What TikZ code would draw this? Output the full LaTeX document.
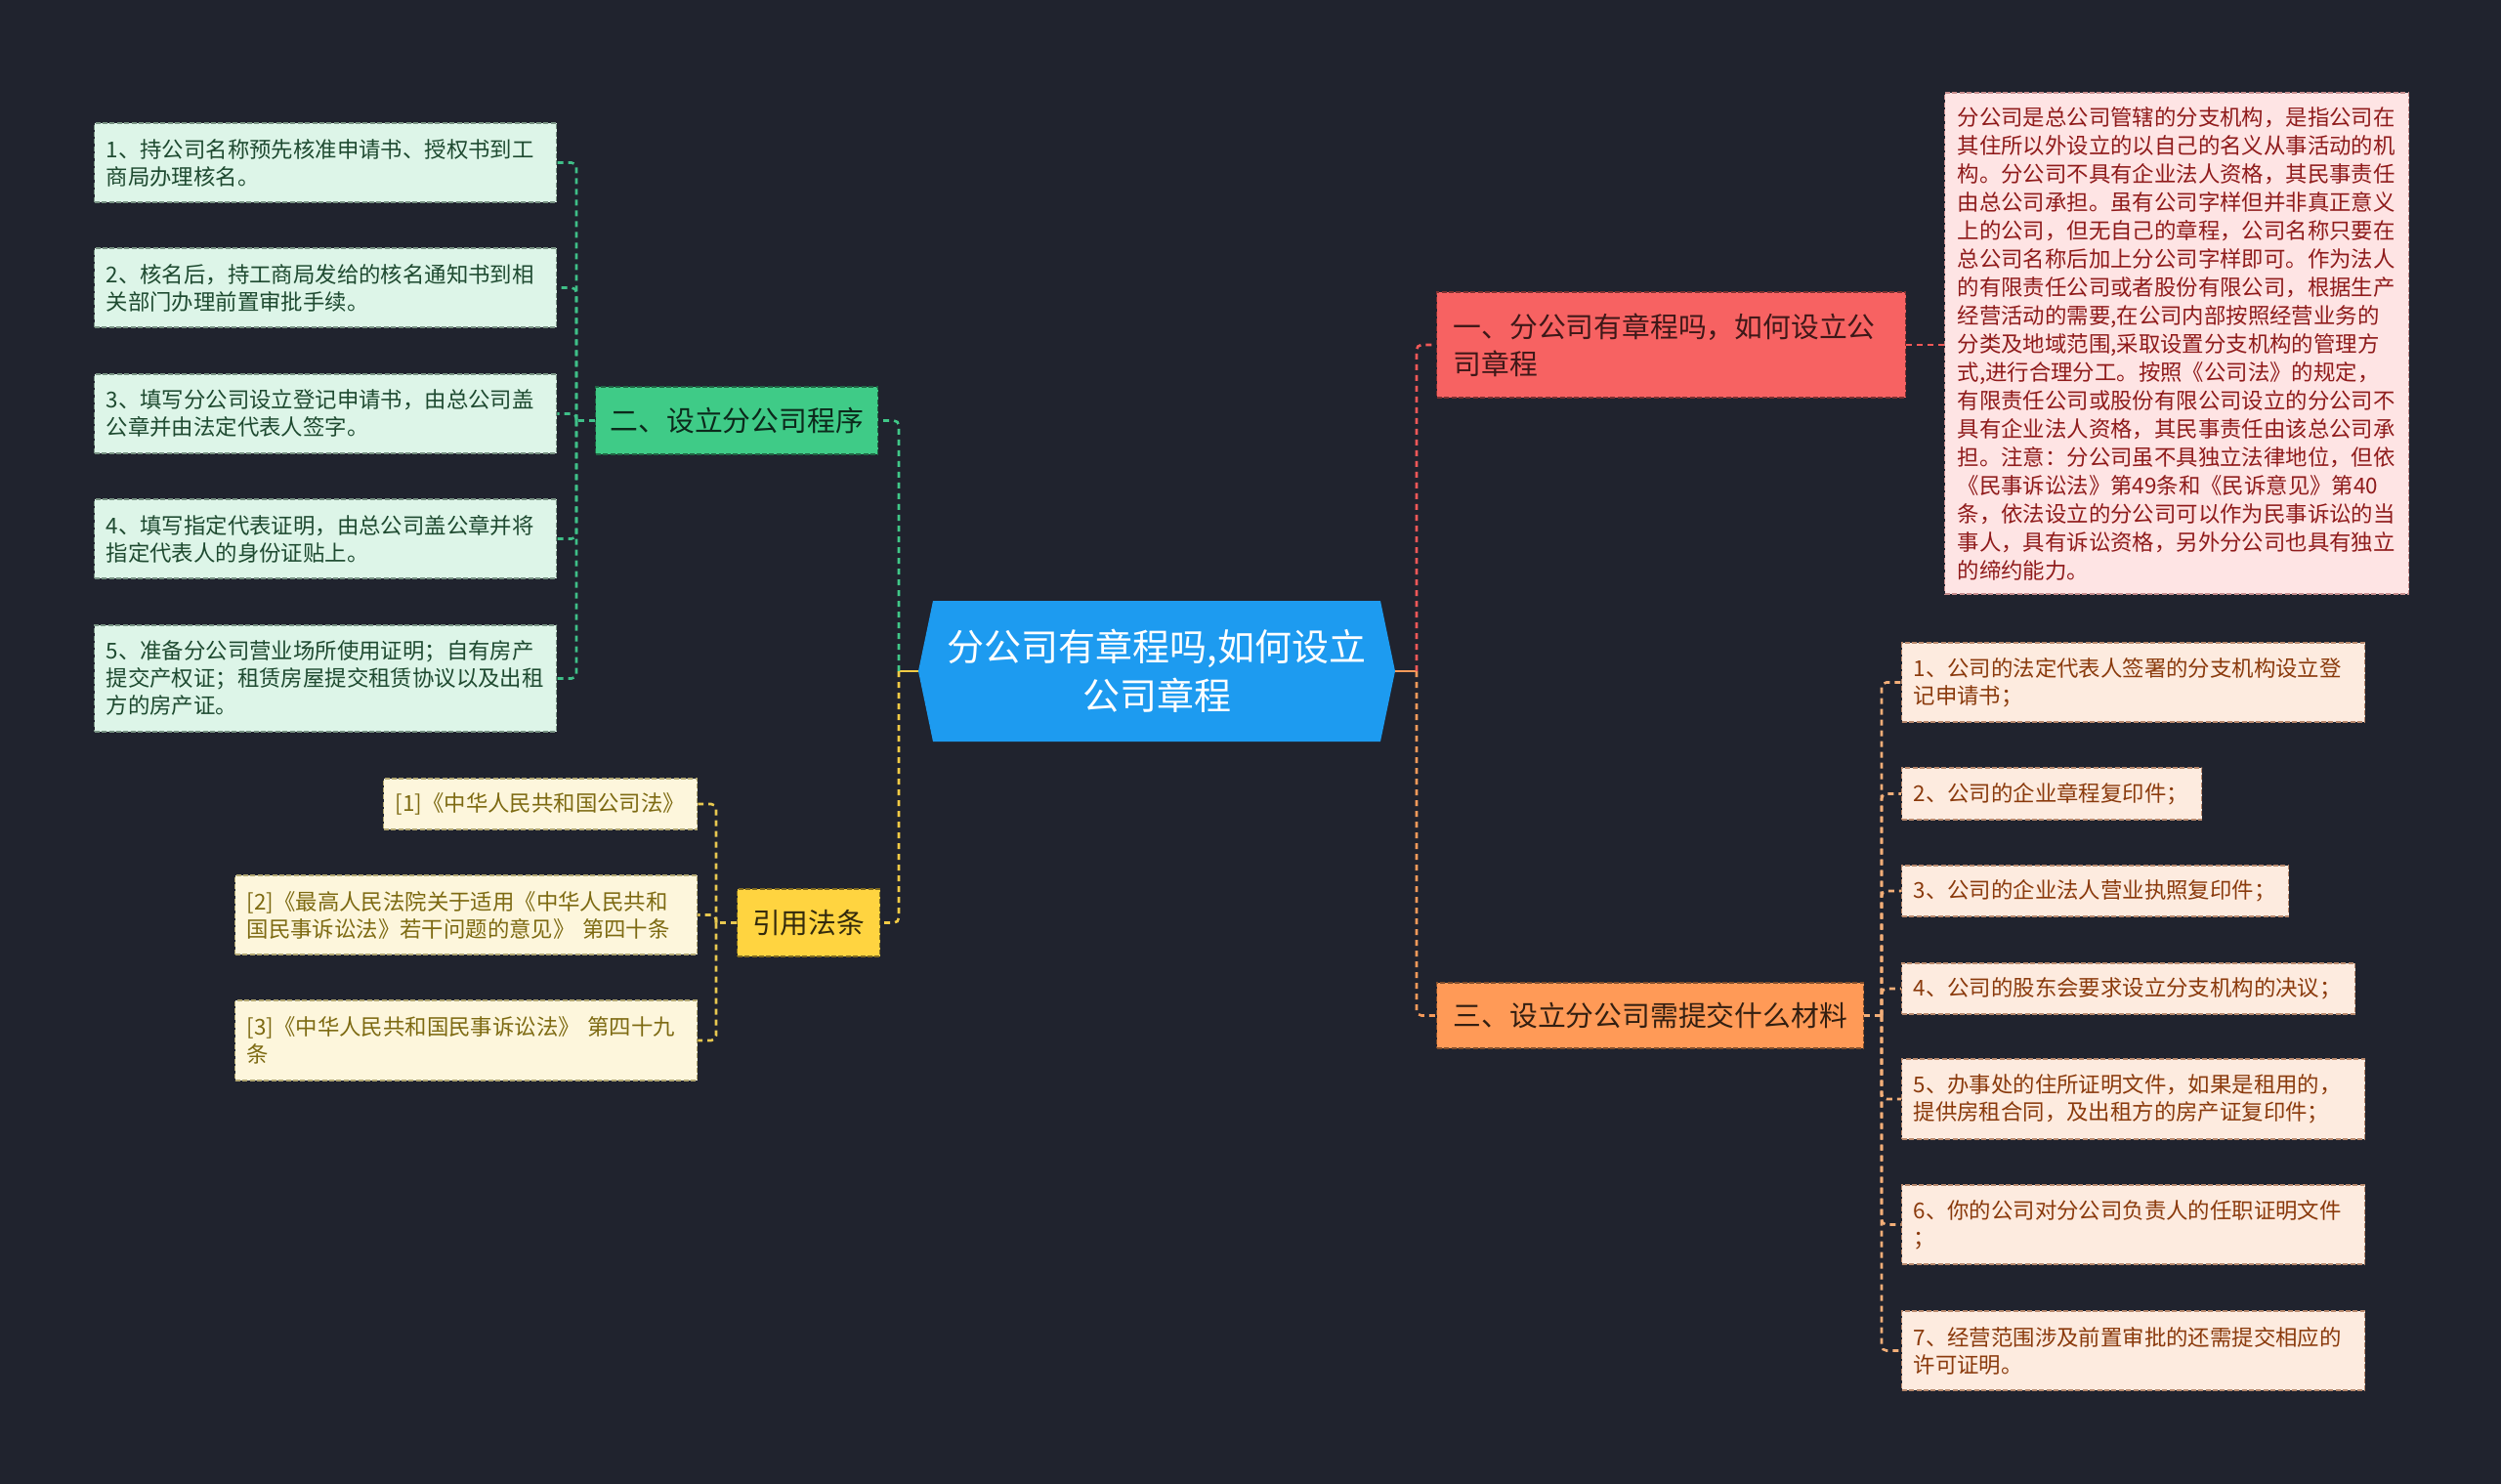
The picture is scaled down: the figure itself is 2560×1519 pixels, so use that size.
\documentclass[tikz,border=0pt]{standalone}
\usepackage{fontspec}
\setmainfont{Noto Sans CJK SC}
\definecolor{bg}{HTML}{20232E}
\definecolor{cblue}{HTML}{1D9BF0}
\definecolor{cred}{HTML}{F76262}
\definecolor{corange}{HTML}{FF9A57}
\definecolor{cgreen}{HTML}{3FCB87}
\definecolor{cyellow}{HTML}{FFD440}
\definecolor{gfill}{HTML}{DDF5E8}
\definecolor{gtext}{HTML}{1E4A30}
\definecolor{yfill}{HTML}{FDF6DC}
\definecolor{ytext}{HTML}{7D6A12}
\definecolor{pfill}{HTML}{FEE4E4}
\definecolor{ptext}{HTML}{8F1B1B}
\definecolor{ofill}{HTML}{FDEBDF}
\definecolor{otext}{HTML}{8A3A0C}
\definecolor{lgreen}{HTML}{40C888}
\definecolor{lyellow}{HTML}{F2CB45}
\definecolor{lred}{HTML}{F05858}
\definecolor{lorange}{HTML}{F59A5A}
\definecolor{lsubor}{HTML}{F2AE78}
\definecolor{lsubgr}{HTML}{3FBF88}
\definecolor{lsubye}{HTML}{E8C850}
\begin{document}
\begin{tikzpicture}[x=0.5pt,y=-0.5pt,
  conn/.style={line width=1.3pt, dash pattern=on 3pt off 2.5pt, rounded corners=2.5pt},
  solidconn/.style={line width=1.3pt},
  boxbase/.style={rectangle, anchor=west, inner xsep=6pt, inner ysep=0pt, align=left, line width=0.7pt, dash pattern=on 2.5pt off 1.2pt},
  gitem/.style={boxbase, fill=gfill, draw=gtext!60, text=gtext, text width=224.5pt, font=\fontsize{11.2}{14}\selectfont},
  yitem/.style={boxbase, fill=yfill, draw=ytext!60, text=ytext, text width=224.5pt, font=\fontsize{11.2}{14}\selectfont},
  oitem/.style={boxbase, fill=ofill, draw=otext!60, text=otext, text width=225pt, font=\fontsize{11.2}{14}\selectfont},
  headnode/.style={rectangle, anchor=west, inner sep=0pt, align=center, line width=0.7pt, dash pattern=on 2.5pt off 1.2pt, font=\fontsize{14.4}{19}\selectfont}
]
\fill[bg] (0,0) rectangle (2560,1519);
\useasboundingbox (0,0) rectangle (2560,1519);

% central node
\fill[cblue] (940,687) -- (955,615) -- (1413,615) -- (1428,687) -- (1413,759) -- (955,759) -- cycle;
\node[text=white, align=center, font=\fontsize{19}{25}\selectfont] (c) at (1184,687) {分公司有章程吗,如何设立\\公司章程};
\coordinate (cL) at (940,687);
\coordinate (cR) at (1428,687);
\coordinate (jL) at (920,687);
\coordinate (jR) at (1450,687);

% right branch heads
\node[headnode, fill=cred, draw=cred!50!black, text=cred!25!black, minimum width=240pt, minimum height=54pt, text width=223pt, align=left, inner xsep=8.5pt] (n1) at (1470,353) {一、分公司有章程吗，如何设立公\\司章程};
\node[boxbase, fill=pfill, draw=ptext!50, text=ptext, text width=224.5pt, minimum height=256.5pt, inner xsep=6.5pt, font=\fontsize{11.2}{14.5}\selectfont] (pk) at (1990,351.5) {分公司是总公司管辖的分支机构，是指公司在\\其住所以外设立的以自己的名义从事活动的机\\构。分公司不具有企业法人资格，其民事责任\\由总公司承担。虽有公司字样但并非真正意义\\上的公司，但无自己的章程，公司名称只要在\\总公司名称后加上分公司字样即可。作为法人\\的有限责任公司或者股份有限公司，根据生产\\经营活动的需要,在公司内部按照经营业务的\\分类及地域范围,采取设置分支机构的管理方\\式,进行合理分工。按照《公司法》的规定，\\有限责任公司或股份有限公司设立的分公司不\\具有企业法人资格，其民事责任由该总公司承\\担。注意：分公司虽不具独立法律地位，但依\\《民事诉讼法》第49条和《民诉意见》第40\\条，依法设立的分公司可以作为民事诉讼的当\\事人，具有诉讼资格，另外分公司也具有独立\\的缔约能力。};
\node[headnode, fill=corange, draw=corange!50!black, text=corange!20!black, minimum width=218.5pt, minimum height=33.5pt] (n3) at (1470,1039.5) {三、设立分公司需提交什么材料};

% right items
\node[oitem, minimum height=40.5pt] (o1) at (1946,698.5) {1、公司的法定代表人签署的分支机构设立登\\记申请书；};
\node[oitem, minimum height=26.5pt, text width=141.5pt] (o2) at (1946,812.5) {2、公司的企业章程复印件；};
\node[oitem, minimum height=26pt, text width=186pt] (o3) at (1946,912) {3、公司的企业法人营业执照复印件；};
\node[oitem, minimum height=26pt, text width=220pt] (o4) at (1946,1012) {4、公司的股东会要求设立分支机构的决议；};
\node[oitem, minimum height=41pt] (o5) at (1946,1125) {5、办事处的住所证明文件，如果是租用的，\\提供房租合同，及出租方的房产证复印件；};
\node[oitem, minimum height=40.5pt] (o6) at (1946,1253.5) {6、你的公司对分公司负责人的任职证明文件\\；};
\node[oitem, minimum height=40.5pt] (o7) at (1946,1382.5) {7、经营范围涉及前置审批的还需提交相应的\\许可证明。};

% left branch heads
\node[headnode, fill=cgreen, draw=cgreen!50!black, text=cgreen!20!black, minimum width=144.5pt, minimum height=34.5pt] (n2) at (609,430.5) {二、设立分公司程序};
\node[headnode, fill=cyellow, draw=cyellow!50!black, text=cyellow!20!black, minimum width=73pt, minimum height=34.5pt] (nY) at (754,944.5) {引用法条};

% left green items
\node[gitem, minimum height=40.5pt] (g1) at (96,166.5) {1、持公司名称预先核准申请书、授权书到工\\商局办理核名。};
\node[gitem, minimum height=40.5pt] (g2) at (96,294.5) {2、核名后，持工商局发给的核名通知书到相\\关部门办理前置审批手续。};
\node[gitem, minimum height=40.5pt] (g3) at (96,423.5) {3、填写分公司设立登记申请书，由总公司盖\\公章并由法定代表人签字。};
\node[gitem, minimum height=40.5pt] (g4) at (96,551.5) {4、填写指定代表证明，由总公司盖公章并将\\指定代表人的身份证贴上。};
\node[gitem, minimum height=54.5pt] (g5) at (96,694.5) {5、准备分公司营业场所使用证明；自有房产\\提交产权证；租赁房屋提交租赁协议以及出租\\方的房产证。};

% refs
\node[yitem, minimum height=26pt, text width=148.5pt] (r1) at (392,823) {[1]《中华人民共和国公司法》};
\node[yitem, minimum height=40.5pt] (r2) at (240,936.5) {[2]《最高人民法院关于适用《中华人民共和\\国民事诉讼法》若干问题的意见》~第四十条};
\node[yitem, minimum height=41pt] (r3) at (240,1065) {[3]《中华人民共和国民事诉讼法》~第四十九\\条};

% main connectors
\draw[solidconn, draw=lyellow] (cL) -- (jL);
\draw[conn, draw=lgreen] (jL) |- (n2.east);
\draw[conn, draw=lyellow] (jL) |- (nY.east);
\draw[solidconn, draw=lorange] (cR) -- (jR);
\draw[conn, draw=lred] (jR) |- (n1.west);
\draw[conn, draw=lorange] (jR) |- (n3.west);

% red to description
\draw[conn, draw=lred] (n1.east) -- (n1.east -| pk.west);

% green sub connectors
\coordinate (jG) at (590,430.5);
\draw[conn, draw=lsubgr] (n2.west) -- (jG);
\foreach \k in {1,...,5} {\draw[conn, draw=lsubgr] (jG) |- (g\k.east);}

% yellow sub connectors
\coordinate (jY) at (733,944.5);
\draw[conn, draw=lsubye] (nY.west) -- (jY);
\foreach \k in {1,2,3} {\draw[conn, draw=lsubye] (jY) |- (r\k.east);}

% orange sub connectors
\coordinate (jO) at (1926,1039.5);
\draw[conn, draw=lsubor] (n3.east) -- (jO);
\foreach \k in {1,...,7} {\draw[conn, draw=lsubor] (jO) |- (o\k.west);}
\end{tikzpicture}
\end{document}
